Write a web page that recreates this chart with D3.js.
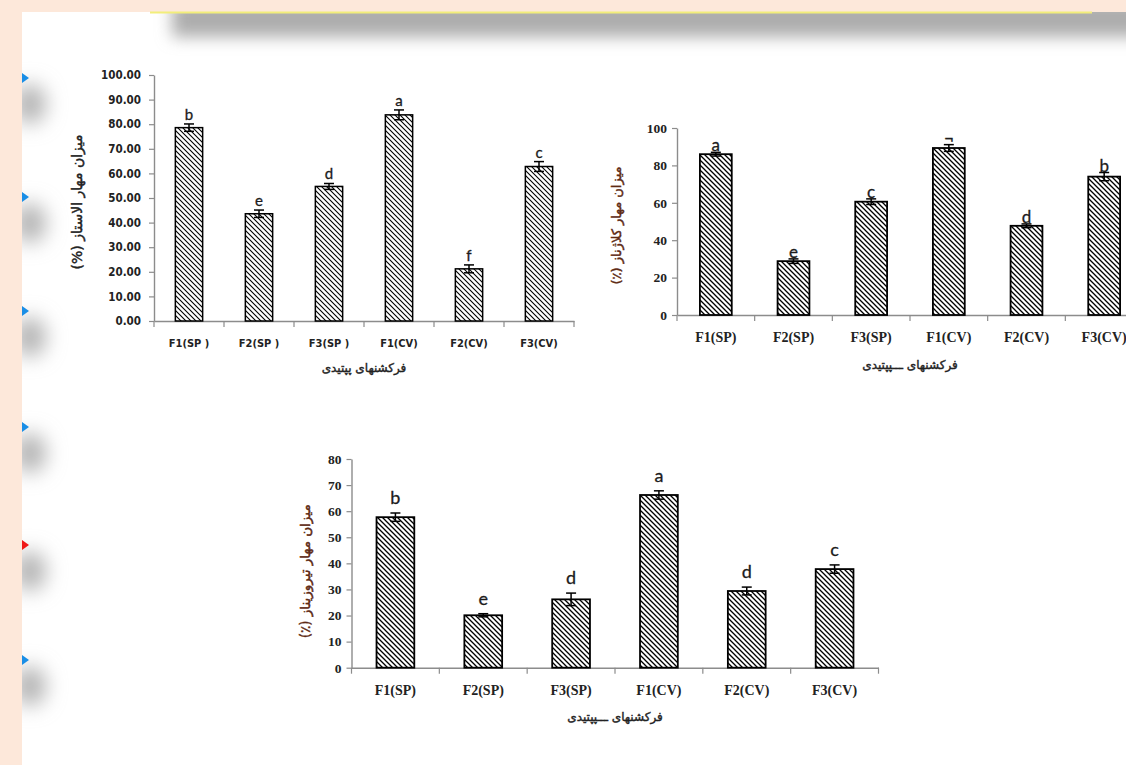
<!DOCTYPE html>
<html>
<head>
<meta charset="utf-8">
<script src="https://cdn.jsdelivr.net/npm/d3@7/dist/d3.min.js"></script>
<style>
  html, body { margin: 0; padding: 0; background: #ffffff; overflow: hidden; }
  svg { display: block; }
</style>
</head>
<body>
<svg id="page" width="1126" height="765"></svg>
<script>
// Peptide fractions on the category axis
const categories = ["F1(SP)", "F2(SP)", "F3(SP)", "F1(CV)", "F2(CV)", "F3(CV)"];
const elastaseCategoryLabels = ["F1(SP )", "F2(SP )", "F3(SP )", "F1(CV)", "F2(CV)", "F3(CV)"];

// Elastase inhibition (%)
const elastaseValues  = [78.6, 43.6, 54.7, 83.8, 21.2, 62.8];
const elastaseErrors  = [1.5, 1.5, 1.2, 2.0, 1.6, 2.0];
const elastaseLetters = ["b", "e", "d", "a", "f", "c"];
const elastaseTicks   = [0, 10, 20, 30, 40, 50, 60, 70, 80, 90, 100];

// Collagenase inhibition (%)
const collagenaseValues  = [86.0, 28.8, 60.6, 89.3, 47.7, 74.0];
const collagenaseErrors  = [1.0, 1.2, 1.5, 1.8, 1.0, 2.2];
const collagenaseLetters = ["a", "e", "c", "¬", "d", "b"];
const collagenaseTicks   = [0, 20, 40, 60, 80, 100];

// Tyrosinase inhibition (%)
const tyrosinaseValues  = [57.7, 20.1, 26.2, 66.2, 29.4, 37.8];
const tyrosinaseErrors  = [1.6, 0.6, 2.4, 1.6, 1.5, 1.6];
const tyrosinaseLetters = ["b", "e", "d", "a", "d", "c"];
const tyrosinaseTicks   = [0, 10, 20, 30, 40, 50, 60, 70, 80];

const svg = d3.select("#page");
const defs = svg.append("defs");

// ---------- slide decoration ----------
const blurF = defs.append("filter").attr("id", "soft").attr("x", "-150%").attr("y", "-150%").attr("width", "400%").attr("height", "400%");
blurF.append("feGaussianBlur").attr("stdDeviation", 10);
const blurTop = defs.append("filter").attr("id", "softTop").attr("x", "-20%").attr("y", "-100%").attr("width", "140%").attr("height", "300%");
blurTop.append("feGaussianBlur").attr("stdDeviation", 8);

// shadow under the title bar
svg.append("rect").attr("x", 172).attr("y", 0).attr("width", 1000).attr("height", 37)
  .attr("fill", "#adadad").attr("filter", "url(#softTop)");

// bullet shadows
const bulletYs = [78, 197, 311, 427, 545, 660];
bulletYs.forEach(y => {
  svg.append("ellipse").attr("cx", 30).attr("cy", y + 26).attr("rx", 16).attr("ry", 20)
    .attr("fill", "#b4b4b4").attr("filter", "url(#soft)");
});

// peach frame
svg.append("rect").attr("x", 0).attr("y", 0).attr("width", 1126).attr("height", 12).attr("fill", "#fde8da");
svg.append("rect").attr("x", 0).attr("y", 0).attr("width", 22).attr("height", 765).attr("fill", "#fde8da");
svg.append("rect").attr("x", 150).attr("y", 11.5).attr("width", 942).attr("height", 2).attr("fill", "#f2ee7a");

// bullet triangles
bulletYs.forEach((y, i) => {
  svg.append("path")
    .attr("d", `M22,${y - 5} L29,${y} L22,${y + 5} Z`)
    .attr("fill", i === 4 ? "#f01818" : "#1a8ee6");
});

// ---------- bar charts ----------
function hatch(id, size, width) {
  const p = defs.append("pattern").attr("id", id)
    .attr("patternUnits", "userSpaceOnUse").attr("width", size).attr("height", size);
  p.append("rect").attr("width", size).attr("height", size).attr("fill", "#fff");
  p.append("path")
    .attr("d", `M-1,-1 L${size + 1},${size + 1} M-1,${size - 1} L1,${size + 1} M${size - 1},-1 L${size + 1},1`)
    .attr("stroke", "#000").attr("stroke-width", width);
}

function barChart(o) {
  const g = svg.append("g");
  const x = d3.scaleBand().domain(categories).range([o.x0, o.x1])
    .paddingInner(o.pad).paddingOuter(o.pad / 2);
  const y = d3.scaleLinear().domain(o.domain).range([o.y0, o.y1]);
  hatch(o.id, o.hatchSize, o.hatchWidth);

  // y axis
  const ya = g.append("g").attr("transform", `translate(${o.x0},0)`)
    .call(d3.axisLeft(y).tickValues(o.ticks).tickFormat(o.fmt).tickSize(5).tickSizeOuter(0).tickPadding(o.tickPad));
  ya.select(".domain").attr("stroke", "#8c8c8c").attr("stroke-width", 1.4);
  ya.selectAll(".tick line").attr("stroke", "#8c8c8c").attr("stroke-width", 1.2);
  ya.selectAll(".tick text").attr("font-family", o.tickFont).attr("font-size", o.tickSize)
    .attr("font-weight", "bold").attr("fill", "#222");

  // x axis line with boundary ticks
  const xa = g.append("g").attr("transform", `translate(0,${o.y0})`)
    .call(d3.axisBottom(x).tickSize(0).tickSizeOuter(0).tickPadding(o.labelPad)
      .tickFormat((d, i) => o.catLabels[i]));
  xa.select(".domain").attr("stroke", "#8c8c8c").attr("stroke-width", 1.4);
  xa.selectAll(".tick text").attr("font-family", o.catFont).attr("font-size", o.catSize)
    .attr("font-weight", "bold").attr("fill", "#222");
  const bounds = categories.map(c => x(c) - x.step() * x.paddingInner() / 2)
    .concat([x(categories[categories.length - 1]) + x.bandwidth() + x.step() * x.paddingInner() / 2]);
  xa.selectAll(".bound").data(bounds).join("line").attr("class", "bound")
    .attr("x1", d => d).attr("x2", d => d).attr("y1", 0).attr("y2", 6)
    .attr("stroke", "#8c8c8c").attr("stroke-width", 1.2);

  // bars
  g.selectAll(".bar").data(o.values).join("rect").attr("class", "bar")
    .attr("x", (d, i) => x(categories[i]))
    .attr("y", d => y(d))
    .attr("width", x.bandwidth())
    .attr("height", d => y(0) - y(d))
    .attr("fill", `url(#${o.id})`)
    .attr("stroke", "#000").attr("stroke-width", o.barStroke);

  // error bars
  const cx = i => x(categories[i]) + x.bandwidth() / 2;
  const eg = g.append("g").attr("stroke", "#000").attr("stroke-width", 1.5);
  o.values.forEach((v, i) => {
    const e = o.errors[i];
    eg.append("line").attr("x1", cx(i)).attr("x2", cx(i)).attr("y1", y(v - e)).attr("y2", y(v + e));
    eg.append("line").attr("x1", cx(i) - o.cap).attr("x2", cx(i) + o.cap).attr("y1", y(v + e)).attr("y2", y(v + e));
    eg.append("line").attr("x1", cx(i) - o.cap).attr("x2", cx(i) + o.cap).attr("y1", y(v - e)).attr("y2", y(v - e));
  });

  // significance letters
  g.selectAll(".letter").data(o.letters).join("text").attr("class", "letter")
    .attr("x", (d, i) => cx(i))
    .attr("y", (d, i) => y(o.values[i] + o.errors[i]) - o.letterGap)
    .attr("text-anchor", "middle")
    .attr("font-family", "Lato, 'Open Sans', sans-serif")
    .attr("font-size", o.letterSize)
    .attr("fill", "#1c1c1c")
    .attr("stroke", "#1c1c1c").attr("stroke-width", 0.3)
    .text(d => d);

  // axis titles (regular weight with a thin stroke keeps every Persian glyph available)
  g.append("text")
    .attr("transform", `translate(${o.yTitleX},${(o.y0 + o.y1) / 2 + o.yTitleShift}) rotate(-90)`)
    .attr("text-anchor", "middle").attr("direction", "rtl")
    .attr("font-family", "'DejaVu Sans', sans-serif")
    .attr("font-size", o.yTitleSize).attr("fill", o.yTitleColor)
    .attr("stroke", o.yTitleColor).attr("stroke-width", 0.45)
    .text(o.yTitle);
  g.append("text")
    .attr("x", (o.x0 + o.x1) / 2).attr("y", o.xTitleY)
    .attr("text-anchor", "middle").attr("direction", "rtl")
    .attr("font-family", "'DejaVu Sans', sans-serif")
    .attr("font-size", o.xTitleSize).attr("fill", "#222")
    .attr("stroke", "#222").attr("stroke-width", 0.4)
    .text(o.xTitle);
}

// Elastase
barChart({
  id: "hatchElastase", values: elastaseValues, errors: elastaseErrors, letters: elastaseLetters,
  catLabels: elastaseCategoryLabels, ticks: elastaseTicks, fmt: d3.format(".2f"),
  domain: [0, 100], x0: 154, x1: 574, y0: 321, y1: 75, pad: 0.61,
  hatchSize: 5, hatchWidth: 1.1, barStroke: 1.5, cap: 5,
  tickFont: "'DejaVu Sans Condensed', 'DejaVu Sans', sans-serif", tickSize: 11.5, tickPad: 8,
  catFont: "'DejaVu Sans Condensed', 'DejaVu Sans', sans-serif", catSize: 11, labelPad: 18,
  letterSize: 15, letterGap: 4,
  yTitle: "میزان مهار الاستاز (%)", yTitleX: 82, yTitleShift: 4, yTitleSize: 14, yTitleColor: "#222",
  xTitle: "فرکشنهای پپتیدی", xTitleY: 372, xTitleSize: 12
});

// Collagenase
barChart({
  id: "hatchCollagenase", values: collagenaseValues, errors: collagenaseErrors, letters: collagenaseLetters,
  catLabels: categories, ticks: collagenaseTicks, fmt: d3.format("d"),
  domain: [0, 100], x0: 677, x1: 1143, y0: 315, y1: 128, pad: 0.59,
  hatchSize: 5, hatchWidth: 1.3, barStroke: 1.8, cap: 5,
  tickFont: "'Liberation Serif', serif", tickSize: 13.5, tickPad: 5,
  catFont: "'Liberation Serif', serif", catSize: 14, labelPad: 17,
  letterSize: 17, letterGap: 1,
  yTitle: "میزان مهار کلاژناز (٪)", yTitleX: 621, yTitleShift: 4, yTitleSize: 13, yTitleColor: "#5e2a14",
  xTitle: "فرکشنهای ـــپپتیدی", xTitleY: 369, xTitleSize: 12
});

// Tyrosinase
barChart({
  id: "hatchTyrosinase", values: tyrosinaseValues, errors: tyrosinaseErrors, letters: tyrosinaseLetters,
  catLabels: categories, ticks: tyrosinaseTicks, fmt: d3.format("d"),
  domain: [0, 80], x0: 351.5, x1: 878.5, y0: 667.7, y1: 459, pad: 0.57,
  hatchSize: 5, hatchWidth: 1.3, barStroke: 1.8, cap: 5,
  tickFont: "'Liberation Serif', serif", tickSize: 13.5, tickPad: 5,
  catFont: "'Liberation Serif', serif", catSize: 14, labelPad: 17,
  letterSize: 18, letterGap: 9,
  yTitle: "میزان مهار تیروزیناز (٪)", yTitleX: 310, yTitleShift: 8, yTitleSize: 13.5, yTitleColor: "#5e2a14",
  xTitle: "فرکشنهای ـــپپتیدی", xTitleY: 721, xTitleSize: 12
});
</script>
</body>
</html>
